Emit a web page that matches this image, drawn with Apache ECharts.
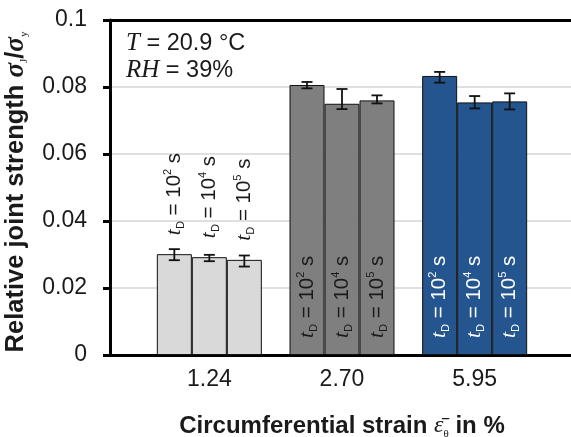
<!DOCTYPE html>
<html>
<head>
<meta charset="utf-8">
<script src="https://cdn.jsdelivr.net/npm/echarts@6/dist/echarts.min.js"></script>
<style>html,body{margin:0;padding:0;background:#fff}#c{width:571px;height:437px}</style>
</head>
<body>
<div id="c"></div>
<script>
// ---- data ----
var categories = ['1.24', '2.70', '5.95'];
var groupColors = ['#d9d9d9', '#7f7f7f', '#24558e'];
var labelColors = ['#1a1a1a', '#1a1a1a', '#ffffff'];
var timeExponents = ['2', '4', '5'];
var strength_1e2 = [0.0301, 0.0806, 0.0833];
var strength_1e4 = [0.0292, 0.0750, 0.0754];
var strength_1e5 = [0.0284, 0.0760, 0.0757];
var errUp_1e2 = [0.0015, 0.0009, 0.0012];
var errUp_1e4 = [0.0007, 0.0044, 0.0019];
var errUp_1e5 = [0.0013, 0.0015, 0.0024];
var errDown_1e2 = [0.0018, 0.0010, 0.0020];
var errDown_1e4 = [0.0012, 0.0016, 0.0018];
var errDown_1e5 = [0.0020, 0.0009, 0.0024];
var yTickLabels = ['0', '0.02', '0.04', '0.06', '0.08', '0.1'];

var values = [strength_1e2, strength_1e4, strength_1e5];
var ups = [errUp_1e2, errUp_1e4, errUp_1e5];
var downs = [errDown_1e2, errDown_1e4, errDown_1e5];

var BAR_W = 35;
var chart = echarts.init(document.getElementById('c'), null, {renderer: 'canvas'});

var labelRich = function (color) {
  return {
    t: {fontFamily: 'Liberation Serif', fontStyle: 'italic', fontSize: 22, color: color, lineHeight: 24},
    sub: {fontFamily: 'Liberation Sans', fontSize: 11, color: color, verticalAlign: 'bottom', lineHeight: 11},
    n: {fontFamily: 'Liberation Sans', fontSize: 20.5, color: color, lineHeight: 24},
    sup: {fontFamily: 'Liberation Sans', fontSize: 11, color: color, verticalAlign: 'top', lineHeight: 11}
  };
};

var series = [];
for (var k = 0; k < 3; k++) {
  (function (k) {
    series.push({
      type: 'bar', xAxisIndex: 1, yAxisIndex: 1,
      barWidth: BAR_W, barGap: '0%',
      data: values[k].map(function (v, i) {
        var inside = i > 0;
        return {
          value: v,
          itemStyle: {color: groupColors[i], borderColor: '#111', borderWidth: 1},
          label: {
            show: true, rotate: 90, align: 'left', verticalAlign: 'middle',
            position: inside ? 'insideBottom' : 'top',
            distance: inside ? 17 : 19,
            formatter: '{t|t}{sub|D}{n| = 10}{sup|' + timeExponents[k] + '}{n| s}',
            rich: labelRich(labelColors[i])
          }
        };
      }),
      z: 2
    });
    series.push({
      type: 'custom', xAxisIndex: 1, yAxisIndex: 1, z: 5,
      data: values[k].map(function (v, i) { return [i, v - downs[k][i], v + ups[k][i]]; }),
      renderItem: function (params, api) {
        var x = api.coord([api.value(0), 0])[0] + (k - 1) * BAR_W;
        var yl = api.coord([api.value(0), api.value(1)])[1];
        var yh = api.coord([api.value(0), api.value(2)])[1];
        var cap = 5.5;
        var st = {stroke: '#111', lineWidth: 1.8};
        return {type: 'group', children: [
          {type: 'line', shape: {x1: x, y1: yl, x2: x, y2: yh}, style: st},
          {type: 'line', shape: {x1: x - cap, y1: yl, x2: x + cap, y2: yl}, style: st},
          {type: 'line', shape: {x1: x - cap, y1: yh, x2: x + cap, y2: yh}, style: st}
        ]};
      }
    });
  })(k);
}

var option = {
  animation: false,
  backgroundColor: '#fff',
  grid: [
    {left: 110, right: 0, top: 20, bottom: 82, outerBoundsMode: 'none', containLabel: false},
    {left: 143, right: 30, top: 20, bottom: 82, outerBoundsMode: 'none', containLabel: false}
  ],
  xAxis: [
    {gridIndex: 0, type: 'value', min: 0, max: 1, position: 'bottom',
     axisLine: {show: true, lineStyle: {color: '#000', width: 3}},
     axisTick: {show: false}, axisLabel: {show: false}, splitLine: {show: false}},
    {gridIndex: 1, type: 'category', data: categories, position: 'bottom',
     axisLine: {show: false}, axisTick: {show: false},
     axisLabel: {fontFamily: 'Liberation Sans', fontSize: 23, color: '#1a1a1a', margin: 13},
     name: '{b|Circumferential strain }{e|ε\u0304}{s|θ}{b| in %}',
     nameLocation: 'middle', nameGap: 57,
     nameTextStyle: {rich: {
       b: {fontFamily: 'Liberation Sans', fontWeight: 'bold', fontSize: 24, color: '#1a1a1a', lineHeight: 28},
       e: {fontFamily: 'Liberation Serif', fontStyle: 'italic', fontSize: 24, color: '#1a1a1a', lineHeight: 28},
       s: {fontFamily: 'Liberation Serif', fontSize: 11, color: '#1a1a1a', verticalAlign: 'bottom', lineHeight: 11}
     }}},
    {gridIndex: 0, type: 'value', min: 0, max: 1, position: 'top',
     axisLine: {show: true, lineStyle: {color: '#000', width: 3}},
     axisTick: {show: false}, axisLabel: {show: false}, splitLine: {show: false}}
  ],
  yAxis: [
    {gridIndex: 0, type: 'value', min: 0, max: 0.1, interval: 0.02,
     axisLine: {show: true, lineStyle: {color: '#000', width: 3}},
     axisTick: {show: true, length: 7, lineStyle: {color: '#000', width: 3}},
     axisLabel: {fontFamily: 'Liberation Sans', fontSize: 23, color: '#1a1a1a', margin: 23,
       formatter: function (v) { return yTickLabels[Math.round(v / 0.02)]; }},
     splitLine: {show: true, lineStyle: {color: '#d6d6d6', width: 1.5}},
     name: '{b|Relative joint strength }{g|σ}{s|J}{b|/}{g|σ}{s|y}',
     nameLocation: 'middle', nameGap: 80,
     nameTextStyle: {padding: [0, 9, 0, 0], rich: {
       b: {fontFamily: 'Liberation Sans', fontWeight: 'bold', fontSize: 25.5, color: '#1a1a1a', lineHeight: 28},
       g: {fontFamily: 'Liberation Serif', fontStyle: 'italic', fontWeight: 'bold', fontSize: 27, color: '#1a1a1a', lineHeight: 28},
       s: {fontFamily: 'Liberation Serif', fontSize: 11, color: '#1a1a1a', verticalAlign: 'bottom', lineHeight: 11}
     }}},
    {gridIndex: 1, type: 'value', min: 0, max: 0.1, show: false, splitLine: {show: false}}
  ],
  graphic: [{
    type: 'text', left: 126, top: 31, z: 10,
    style: {
      text: '{i|T}{n| = 20.9 °C}\n{i|RH}{n| = 39%}',
      rich: {
        i: {fontFamily: 'Liberation Serif', fontStyle: 'italic', fontSize: 25, fill: '#1a1a1a', lineHeight: 27},
        n: {fontFamily: 'Liberation Sans', fontSize: 23.5, fill: '#1a1a1a', lineHeight: 27}
      }
    }
  }],
  series: series
};
chart.setOption(option);
</script>
</body>
</html>
